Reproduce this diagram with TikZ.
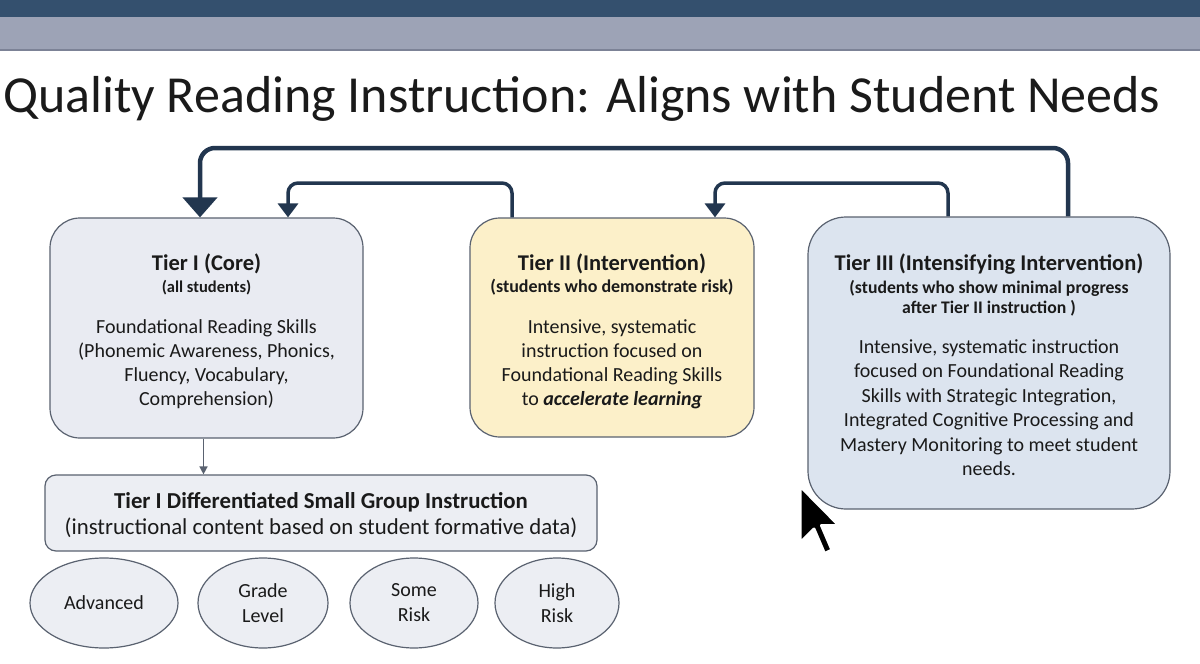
\documentclass[tikz,border=0pt]{standalone}
\usepackage{fontspec}
\setmainfont{Carlito}
\usetikzlibrary{arrows.meta,shapes.geometric,calc}
\definecolor{bandtop}{HTML}{34506E}
\definecolor{bandmid}{HTML}{9DA3B6}
\definecolor{bandline}{HTML}{7C8296}
\definecolor{arrowc}{HTML}{22364F}
\definecolor{boxline}{HTML}{5A6270}
\definecolor{tonefill}{HTML}{E9EBF2}
\definecolor{ttwofill}{HTML}{FCF0C9}
\definecolor{tthreefill}{HTML}{DCE4EF}
\definecolor{sgfill}{HTML}{ECEEF3}
\definecolor{txt}{HTML}{1A1A1A}
\newcommand{\tiertitle}[1]{{\fontsize{22.5}{27}\selectfont\bfseries #1}}
\newcommand{\tiersub}[2]{{\fontsize{#1}{20}\selectfont\bfseries #2}}
\begin{document}
\begin{tikzpicture}[x=1pt,y=-1pt,
  tierbox/.style={draw=boxline, line width=1.2pt, rounded corners=30pt, inner sep=0pt},
  boxtext/.style={anchor=base, align=center, inner sep=0pt, text=txt},
  ovalbox/.style={draw=boxline, line width=1.2pt, fill=sgfill, ellipse, inner sep=0pt, align=center,
    font=\fontsize{20}{25}\selectfont, text=txt, minimum height=90pt},
  bigarr/.style={draw=arrowc, line width=4.5pt, rounded corners=15pt, -{Triangle[width=34pt,length=20pt]}},
  smallarr/.style={draw=arrowc, line width=3.5pt, rounded corners=10pt, -{Triangle[width=20pt,length=14pt]}},
  thinarr/.style={draw=boxline, line width=1.5pt, -{Triangle[width=8pt,length=8pt]}}
]
\useasboundingbox (0,0) rectangle (1200,664);
\fill[white] (0,0) rectangle (1200,664);
\fill[bandtop] (0,0) rectangle (1200,17);
\fill[bandmid] (0,17) rectangle (1200,50);
\draw[bandline, line width=1.5pt] (0,50) -- (1200,50);

\node[anchor=base west, inner sep=0pt, text=txt, font=\fontsize{52}{58}\selectfont] (title) at (3,112)
  {Quality Reading Instruction: Aligns with Student Needs};

% Tier boxes
\node[tierbox, fill=tonefill, minimum width=313pt, minimum height=220pt] (t1) at (206.5,328) {};
\node[tierbox, fill=ttwofill, minimum width=284pt, minimum height=219pt] (t2) at (612,327.5) {};
\node[tierbox, rounded corners=38pt, fill=tthreefill, minimum width=362pt, minimum height=292pt] (t3) at (989,363) {};
\node[tierbox, rounded corners=11pt, fill=sgfill, minimum width=552pt, minimum height=76pt] (sg) at (321,513) {};

% text anchored at the baseline of the last line
\node[boxtext, font=\fontsize{20}{24}\selectfont] (t1txt) at (t1.center |- 0,405.5)
  {\tiertitle{Tier I (Core)}\\[-2pt]
   \tiersub{16.5}{(all students)}\\[17.5pt]
   Foundational Reading Skills\\
   (Phonemic Awareness, Phonics,\\
   Fluency, Vocabulary,\\
   Comprehension)};

\node[boxtext, font=\fontsize{20}{24}\selectfont] (t2txt) at (t2.center |- 0,405.5)
  {\tiertitle{Tier II (Intervention)}\\[-2pt]
   \tiersub{18}{(students who demonstrate risk)}\\[17.5pt]
   Intensive, systematic\\
   instruction focused on\\
   Foundational Reading Skills\\
   to \textbf{\textit{accelerate learning}}};

\node[boxtext, font=\fontsize{20}{24.4}\selectfont] (t3txt) at (t3.center |- 0,475.5)
  {\tiertitle{Tier III (Intensifying Intervention)}\\[-1.4pt]
   \tiersub{17.7}{(students who show minimal progress}\\[-4.4pt]
   \tiersub{17.7}{after Tier II instruction )}\\[16pt]
   Intensive, systematic instruction\\
   focused on Foundational Reading\\
   Skills with Strategic Integration,\\
   Integrated Cognitive Processing and\\
   Mastery Monitoring to meet student\\
   needs.};

\node[boxtext, font=\fontsize{22.8}{26}\selectfont] (sgtxt) at (sg.center |- 0,534.5)
  {{\bfseries Tier I Differentiated Small Group Instruction}\\
   (instructional content based on student formative data)};

% ovals
\node[ovalbox, minimum width=148pt] (adv) at (104,603) {Advanced};
\node[ovalbox, minimum width=130pt] (grade) at (263,603) {Grade\\Level};
\node[ovalbox, minimum width=128pt] (some) at (414,603) {Some\\Risk};
\node[ovalbox, minimum width=124pt] (high) at (557,603) {High\\Risk};

% connector coordinates
\coordinate (xa) at (200,0);
\coordinate (xb) at (1068,0);
\coordinate (ya) at (0,148);
\coordinate (xc) at (288,0);
\coordinate (xd) at (512,0);
\coordinate (yb) at (0,183);
\coordinate (xe) at (715,0);
\coordinate (xf) at (948,0);
\coordinate (xg) at (203.5,0);

\draw[bigarr] (t3.north -| xb) -- (xb |- ya) -- (xa |- ya) -- (t1.north -| xa);
\draw[smallarr] (t2.north -| xd) -- (xd |- yb) -- (xc |- yb) -- (t1.north -| xc);
\draw[smallarr] (t3.north -| xf) -- (xf |- yb) -- (xe |- yb) -- (t2.north -| xe);
\draw[thinarr] (t1.south -| xg) -- (sg.north -| xg);

% mouse pointer
\filldraw[fill=black, draw=white, line width=3pt, line join=round]
  (800,486) -- (800,543) -- (814,529) -- (824.5,553.5) -- (832,550) -- (821.5,525.5) -- (839,525.5) -- cycle;
\end{tikzpicture}
\end{document}
